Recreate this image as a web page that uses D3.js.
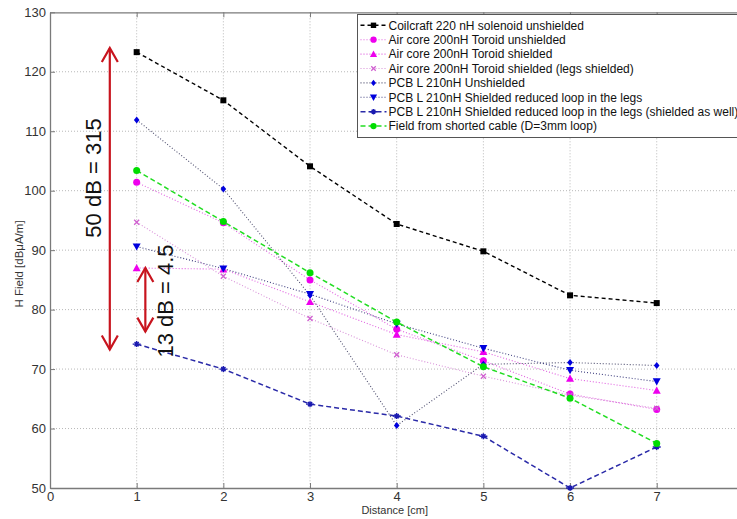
<!DOCTYPE html>
<html><head><meta charset="utf-8">
<script src="https://cdn.jsdelivr.net/npm/d3@7"></script>
<style>
html,body{margin:0;padding:0;background:#fff;}
svg{display:block;font-family:"Liberation Sans",Arial,sans-serif;}
</style></head><body>
<svg id="chart" width="737" height="519"></svg>
<script>
const distances = [1, 2, 3, 4, 5, 6, 7];
const xTicks = [0, 1, 2, 3, 4, 5, 6, 7, 8];
const yTicks = [50, 60, 70, 80, 90, 100, 110, 120, 130];

const coilcraft   = [123.3, 115.2, 104.1, 94.4, 89.8, 82.4, 81.1];
const airUnsh     = [101.4, 94.6, 85.0, 76.7, 71.4, 65.8, 63.2];
const airSh       = [87.0, 86.8, 81.3, 75.8, 72.9, 68.4, 66.4];
const airLegs     = [94.7, 85.6, 78.5, 72.4, 68.8, 65.6, 63.4];
const pcbUnsh     = [111.9, 100.3, 82.4, 60.5, 70.8, 71.1, 70.6];
const pcbReduced  = [90.6, 86.9, 82.6, 77.6, 73.5, 69.8, 67.9];
const pcbRedShld  = [74.2, 70.0, 64.1, 62.1, 58.7, 50.0, 56.9];
const cable       = [103.4, 94.8, 86.2, 77.9, 70.4, 65.1, 57.5];

const seriesNames = [
  "Coilcraft 220 nH solenoid unshielded",
  "Air core 200nH Toroid unshielded",
  "Air core 200nH Toroid shielded",
  "Air core 200nH Toroid shielded (legs shielded)",
  "PCB L 210nH Unshielded",
  "PCB L 210nH Shielded reduced loop in the legs",
  "PCB L 210nH Shielded reduced loop in the legs (shielded as well)",
  "Field from shorted cable (D=3mm loop)"
];
const seriesValues = [coilcraft, airUnsh, airSh, airLegs, pcbUnsh, pcbReduced, pcbRedShld, cable];

// annotations (data units)
const bigArrow = {x: 0.69, y0: 124.0, y1: 73.3, label: "50 dB = 315"};
const smallArrow = {x: 1.1, y0: 87.0, y1: 76.3, label: "13 dB = 4.5"};

const styles = [
  {color:"#000000", line:"#000000", dash:"4,3", w:1.4, marker:"square", size:6},
  {color:"#ee00ee", line:"#e060e0", dash:"1,2", w:1.1, marker:"circle", size:7},
  {color:"#ee00ee", line:"#e060e0", dash:"1,2", w:1.1, marker:"triangleUp", size:8},
  {color:"#d060d0", line:"#d890d8", dash:"1,2", w:1.1, marker:"cross", size:5},
  {color:"#0000dd", line:"#505070", dash:"1,2", w:1.1, marker:"diamond", size:7},
  {color:"#0000dd", line:"#404080", dash:"1,2", w:1.1, marker:"triangleDown", size:8},
  {color:"#1a1ab0", line:"#2a2aa8", dash:"5,3", w:1.5, marker:"star", size:6},
  {color:"#00dd00", line:"#22dd22", dash:"5,3", w:1.5, marker:"circle", size:7}
];

const svg = d3.select("#chart");
const L = 50, R = 743.4, T = 12.3, B = 488;
const x = d3.scaleLinear().domain([0, 8]).range([L, R]);
const y = d3.scaleLinear().domain([50, 130]).range([B, T]);

svg.append("rect").attr("width",737).attr("height",519).attr("fill","#fff");

// grid
const grid = svg.append("g");
grid.selectAll("line.gx").data(xTicks.slice(1)).enter().append("line")
  .attr("x1", d=>x(d)).attr("x2", d=>x(d)).attr("y1", T).attr("y2", B)
  .attr("stroke","#b8b8b8").attr("stroke-width",1).attr("stroke-dasharray","1,2");
grid.selectAll("line.gy").data(yTicks.slice(1, -1)).enter().append("line")
  .attr("x1", L).attr("x2", R).attr("y1", d=>y(d)).attr("y2", d=>y(d))
  .attr("stroke","#b8b8b8").attr("stroke-width",1).attr("stroke-dasharray","1,2");

// axes
const xAxis = d3.axisBottom(x).tickValues(xTicks).tickSize(-5).tickPadding(4).tickSizeOuter(0)
  .tickFormat(d => d === 8 ? "" : d);
const yAxis = d3.axisLeft(y).tickValues(yTicks).tickSize(-5).tickPadding(6).tickSizeOuter(0);
const gx = svg.append("g").attr("transform", `translate(0,${B})`).call(xAxis);
const gy = svg.append("g").attr("transform", `translate(${L},0)`).call(yAxis);
const gxTop = svg.append("g").attr("transform", `translate(0,${T})`)
  .call(d3.axisTop(x).tickValues(xTicks).tickSize(-5).tickSizeOuter(0).tickFormat(""));
[gx, gy, gxTop].forEach(g => {
  g.select(".domain").attr("stroke","#7a7a7a").attr("stroke-width",1.3);
  g.selectAll(".tick line").attr("stroke","#7a7a7a");
  g.selectAll("text").attr("font-family","Liberation Sans, Arial, sans-serif").attr("font-size",13).attr("fill","#333");
});
gx.selectAll(".tick text").attr("dy","0.71em");
gy.selectAll(".tick text").attr("dx","2");

svg.append("text").attr("x", x(4) - 2).attr("y", 514).attr("text-anchor","middle")
  .attr("font-size",11).attr("fill","#333").text("Distance [cm]");
svg.append("text").attr("transform","translate(23,264) rotate(-90)").attr("text-anchor","middle")
  .attr("font-size",11.5).attr("fill","#333").text("H Field [dBμA/m]");

// marker generator
function drawMarker(g, type, cx, cy, s, color) {
  const h = s / 2;
  if (type === "square") {
    g.append("rect").attr("x", cx-h).attr("y", cy-h).attr("width", s).attr("height", s).attr("fill", color);
  } else if (type === "circle") {
    g.append("circle").attr("cx", cx).attr("cy", cy).attr("r", h).attr("fill", color);
  } else if (type === "triangleUp") {
    g.append("path").attr("d", `M${cx},${cy-h}L${cx+h},${cy+h*0.8}L${cx-h},${cy+h*0.8}Z`).attr("fill", color);
  } else if (type === "triangleDown") {
    g.append("path").attr("d", `M${cx},${cy+h}L${cx+h},${cy-h*0.8}L${cx-h},${cy-h*0.8}Z`).attr("fill", color);
  } else if (type === "diamond") {
    g.append("path").attr("d", `M${cx},${cy-h}L${cx+h*0.8},${cy}L${cx},${cy+h}L${cx-h*0.8},${cy}Z`).attr("fill", color);
  } else if (type === "cross") {
    g.append("path").attr("d", `M${cx-h},${cy-h}L${cx+h},${cy+h}M${cx-h},${cy+h}L${cx+h},${cy-h}`)
      .attr("stroke", color).attr("stroke-width", 1.3);
  } else if (type === "star") {
    g.append("path").attr("d", `M${cx-h-1},${cy}L${cx+h+1},${cy}M${cx},${cy-h}L${cx},${cy+h}M${cx-h*0.7},${cy-h*0.7}L${cx+h*0.7},${cy+h*0.7}M${cx-h*0.7},${cy+h*0.7}L${cx+h*0.7},${cy-h*0.7}`)
      .attr("stroke", color).attr("stroke-width", 1.4);
  }
}

const line = d3.line().x(d=>x(d[0])).y(d=>y(d[1]));
const plot = svg.append("g");
seriesValues.forEach((vals, i) => {
  const st = styles[i];
  const pts = distances.map((d, j) => [d, vals[j]]);
  const g = plot.append("g");
  g.append("path").attr("d", line(pts)).attr("fill","none").attr("stroke", st.line)
    .attr("stroke-width", st.w).attr("stroke-dasharray", st.dash);
  pts.forEach(p => drawMarker(g, st.marker, x(p[0]), y(p[1]), st.size, st.color));
});

// legend
const lg = svg.append("g");
const lx = 357.5, ly = 14.5, rowH = 14.4;
lg.append("rect").attr("x", lx).attr("y", ly).attr("width", 385).attr("height", 123)
  .attr("fill","#fff").attr("stroke","#555").attr("stroke-width",1);
seriesNames.forEach((name, i) => {
  const st = styles[i];
  const cy = ly + 10.8 + i * rowH;
  lg.append("line").attr("x1", lx + 3).attr("x2", lx + 29).attr("y1", cy).attr("y2", cy)
    .attr("stroke", st.line).attr("stroke-width", st.w).attr("stroke-dasharray", st.dash);
  drawMarker(lg, st.marker, lx + 16, cy, st.size * 0.9, st.color);
  lg.append("text").attr("x", lx + 31).attr("y", cy).attr("dy","0.35em")
    .attr("font-size", 12).attr("fill","#111").text(name);
});

// annotations
const red = "#c8141e";
function arrow(a) {
  const ax = x(a.x), yt = y(a.y0), yb = y(a.y1);
  const g = svg.append("g").attr("stroke", red).attr("stroke-width", 2.2).attr("fill","none");
  g.append("line").attr("x1", ax).attr("x2", ax).attr("y1", yt).attr("y2", yb);
  g.append("path").attr("d", `M${ax-8},${yt+14}L${ax},${yt}L${ax+8},${yt+14}`);
  g.append("path").attr("d", `M${ax-8},${yb-14}L${ax},${yb}L${ax+8},${yb-14}`);
}
arrow(bigArrow);
arrow(smallArrow);
svg.append("text").attr("transform", `translate(${x(bigArrow.x) - 9},178) rotate(-90)`)
  .attr("text-anchor","middle").attr("font-size",22).attr("fill","#111").text(bigArrow.label);
svg.append("text").attr("transform", `translate(${x(smallArrow.x) + 28},301) rotate(-90)`)
  .attr("text-anchor","middle").attr("font-size",22).attr("fill","#111").text(smallArrow.label);
</script>
</body></html>
